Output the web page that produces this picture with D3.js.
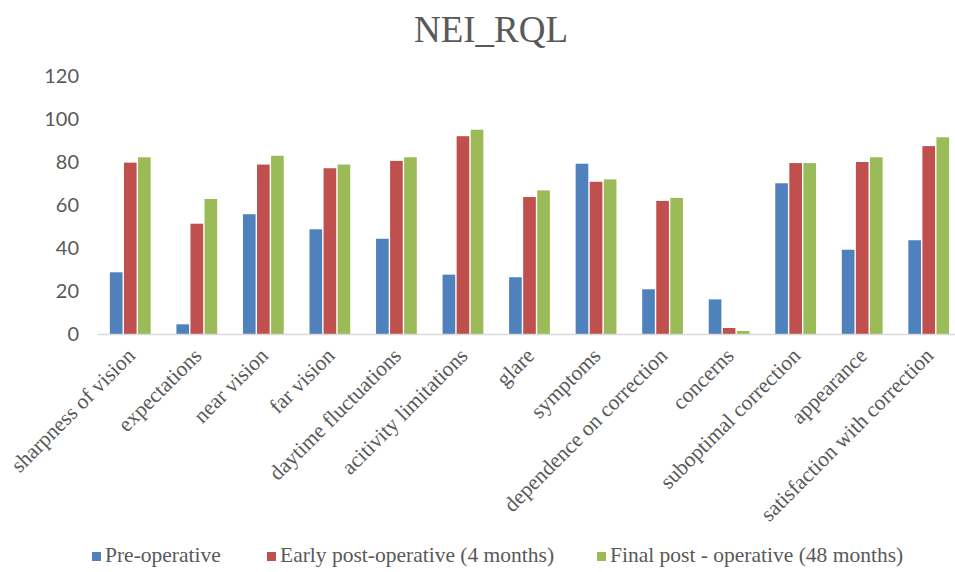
<!DOCTYPE html>
<html>
<head>
<meta charset="utf-8">
<script src="https://cdn.jsdelivr.net/npm/d3@7"></script>
<style>
  body { margin: 0; background: #fff; }
  svg { display: block; }
</style>
</head>
<body>
<div id="chart"></div>
<script>
var svgWidth = 955;
var svgHeight = 572;

// data
var categories = ["sharpness of vision", "expectations", "near vision", "far vision",
    "daytime fluctuations", "acitivity limitations", "glare", "symptoms",
    "dependence on correction", "concerns", "suboptimal correction", "appearance",
    "satisfaction with correction"];
var seriesNames = ["Pre-operative", "Early post-operative (4 months)", "Final post - operative (48 months)"];
var preOp = [28.7, 4.5, 55.7, 48.7, 44.3, 27.6, 26.4, 79.2, 20.8, 16.1, 70.1, 39.2, 43.6];
var earlyPost = [79.7, 51.3, 78.8, 77.1, 80.5, 92.0, 63.7, 70.8, 61.9, 2.8, 79.5, 80.0, 87.4];
var finalPost = [82.2, 62.8, 82.9, 78.8, 82.2, 95.0, 66.8, 71.9, 63.3, 1.4, 79.5, 82.2, 91.5];
var yTicks = [0, 20, 40, 60, 80, 100, 120];
var colors = ["#4F81BD", "#C0504D", "#9BBB59"];

var margin = { top: 76, left: 97, bottom: 238 };
var plotRight = 962;
var height = svgHeight - margin.top - margin.bottom;

var svg = d3.select("#chart")
    .append("svg")
    .attr("width", svgWidth)
    .attr("height", svgHeight);

var rows = categories.map(function (c, i) {
    return { cat: c, values: [preOp[i], earlyPost[i], finalPost[i]] };
});

var x0 = d3.scaleBand()
    .domain(categories)
    .range([margin.left, plotRight])
    .paddingInner(0.345)
    .paddingOuter(0.1725);

var x1 = d3.scaleBand()
    .domain([0, 1, 2])
    .range([0, x0.bandwidth()])
    .padding(0.1);

var y = d3.scaleLinear()
    .domain([0, 120])
    .range([margin.top + height, margin.top]);

// title
svg.append("text")
    .attr("x", 491)
    .attr("y", 42)
    .attr("text-anchor", "middle")
    .attr("fill", "#595959")
    .style("font-family", "'Liberation Serif', serif")
    .style("font-size", "37px")
    .text("NEI_RQL");

// y axis labels
var leftAxis = d3.axisLeft(y).tickValues(yTicks).tickSize(0).tickPadding(0);
var yAxis = svg.append("g")
    .attr("transform", "translate(79,0)")
    .call(leftAxis);
yAxis.select(".domain").remove();
yAxis.selectAll("text")
    .attr("fill", "#595959")
    .style("font-family", "Lato, sans-serif")
    .style("font-size", "20px");

// bars
var groups = svg.append("g").selectAll("g")
    .data(rows)
    .enter()
    .append("g")
    .attr("transform", d => `translate(${x0(d.cat)},0)`);

groups.selectAll("rect")
    .data(d => d.values)
    .enter()
    .append("rect")
    .attr("x", (d, i) => x1(i))
    .attr("y", d => y(d))
    .attr("width", x1.bandwidth())
    .attr("height", d => y(0) - y(d))
    .attr("fill", (d, i) => colors[i]);

// x axis
var bottomAxis = d3.axisBottom(x0).tickSize(0).tickPadding(0);
var xAxis = svg.append("g")
    .attr("transform", `translate(0, ${y(0)})`)
    .call(bottomAxis);
xAxis.select(".domain").attr("stroke", "#D9D9D9").attr("stroke-width", 1.5);
xAxis.selectAll("text")
    .attr("fill", "#595959")
    .attr("text-anchor", "end")
    .attr("dy", null)
    .attr("transform", "translate(6,23) rotate(-45)")
    .style("font-family", "'Liberation Serif', serif")
    .style("font-size", "21.5px");

// legend
var legendX = [92, 267, 597];
var legend = svg.append("g").selectAll("g")
    .data(seriesNames)
    .enter()
    .append("g")
    .attr("transform", (d, i) => `translate(${legendX[i]}, 562)`);

legend.append("rect")
    .attr("x", 0)
    .attr("y", -10)
    .attr("width", 9)
    .attr("height", 9)
    .attr("fill", (d, i) => colors[i]);

legend.append("text")
    .attr("x", 13)
    .attr("y", 0)
    .attr("fill", "#595959")
    .style("font-family", "'Liberation Serif', serif")
    .style("font-size", "21.5px")
    .text(d => d);
</script>
</body>
</html>
